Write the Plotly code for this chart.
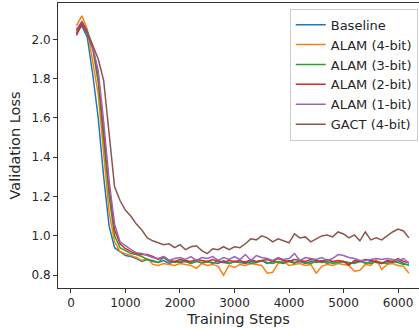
import plotly.graph_objects as go

steps = [100 * (i + 1) for i in range(62)]

baseline = [2.03, 2.07, 2.01, 1.82, 1.60, 1.30, 1.05, 0.94, 0.92, 0.90,
            0.895, 0.885, 0.87, 0.88, 0.87, 0.865, 0.875, 0.86, 0.87, 0.865,
            0.87, 0.86, 0.875, 0.86, 0.87, 0.865, 0.86, 0.875, 0.86, 0.87,
            0.865, 0.86, 0.87, 0.865, 0.875, 0.86, 0.87, 0.865, 0.86, 0.875,
            0.865, 0.87, 0.86, 0.87, 0.865, 0.875, 0.86, 0.87, 0.865, 0.87,
            0.86, 0.865, 0.875, 0.86, 0.87, 0.865, 0.86, 0.87, 0.865, 0.875,
            0.86, 0.85]

alam4 = [2.07, 2.12, 2.05, 1.88, 1.72, 1.42, 1.12, 0.97, 0.92, 0.91,
         0.90, 0.89, 0.875, 0.885, 0.855, 0.85, 0.86, 0.855, 0.85, 0.86,
         0.855, 0.85, 0.835, 0.86, 0.85, 0.855, 0.845, 0.80, 0.85, 0.84,
         0.855, 0.85, 0.86, 0.855, 0.85, 0.81, 0.815, 0.86, 0.87, 0.85,
         0.855, 0.86, 0.85, 0.855, 0.81, 0.845, 0.855, 0.85, 0.86, 0.855,
         0.85, 0.82, 0.825, 0.855, 0.85, 0.88, 0.83, 0.855, 0.86, 0.85,
         0.845, 0.81]

alam3 = [2.05, 2.08, 2.03, 1.95, 1.78, 1.50, 1.20, 1.00, 0.94, 0.925,
         0.91, 0.905, 0.895, 0.88, 0.875, 0.865, 0.89, 0.87, 0.865, 0.87,
         0.875, 0.86, 0.87, 0.865, 0.87, 0.86, 0.875, 0.865, 0.86, 0.87,
         0.865, 0.87, 0.86, 0.865, 0.875, 0.865, 0.86, 0.87, 0.865, 0.87,
         0.86, 0.875, 0.865, 0.86, 0.87, 0.865, 0.87, 0.86, 0.865, 0.87,
         0.865, 0.86, 0.87, 0.865, 0.86, 0.87, 0.865, 0.86, 0.87, 0.865,
         0.855, 0.855]

alam2 = [2.02, 2.08, 2.03, 1.96, 1.82, 1.55, 1.25, 1.03, 0.96, 0.935,
         0.92, 0.91, 0.905, 0.905, 0.895, 0.88, 0.895, 0.875, 0.87, 0.88,
         0.875, 0.87, 0.88, 0.875, 0.87, 0.88, 0.87, 0.865, 0.875, 0.87,
         0.875, 0.865, 0.88, 0.87, 0.875, 0.88, 0.87, 0.885, 0.875, 0.87,
         0.88, 0.875, 0.87, 0.88, 0.875, 0.87, 0.88, 0.87, 0.875, 0.87,
         0.85, 0.875, 0.87, 0.88, 0.875, 0.87, 0.86, 0.875, 0.87, 0.885,
         0.87, 0.865]

alam1 = [2.05, 2.09, 2.04, 1.96, 1.84, 1.58, 1.28, 1.06, 0.97, 0.95,
         0.93, 0.915, 0.91, 0.90, 0.89, 0.885, 0.895, 0.875, 0.885, 0.89,
         0.88, 0.895, 0.875, 0.89, 0.885, 0.895, 0.875, 0.89, 0.88, 0.895,
         0.88, 0.905, 0.875, 0.90, 0.89, 0.885, 0.875, 0.89, 0.88, 0.885,
         0.91, 0.875, 0.89, 0.885, 0.88, 0.89, 0.875, 0.885, 0.905, 0.90,
         0.89, 0.885, 0.875, 0.875, 0.88, 0.885, 0.88, 0.885, 0.88, 0.875,
         0.885, 0.86]

gact4 = [2.04, 2.09, 2.04, 1.97, 1.90, 1.79, 1.50, 1.25, 1.18, 1.13,
         1.10, 1.06, 1.03, 0.99, 0.975, 0.965, 0.955, 0.96, 0.94, 0.955,
         0.93, 0.945, 0.95, 0.925, 0.91, 0.935, 0.93, 0.945, 0.93, 0.945,
         0.94, 0.96, 0.985, 0.98, 1.00, 0.99, 0.97, 0.985, 0.975, 0.965,
         1.01, 0.99, 0.995, 0.97, 0.985, 1.00, 1.005, 0.995, 1.02, 1.01,
         0.99, 1.005, 0.975, 1.02, 0.98, 0.99, 0.98, 1.00, 1.02, 1.035,
         1.025, 0.99]

names = ["Baseline", "ALAM (4-bit)", "ALAM (3-bit)", "ALAM (2-bit)", "ALAM (1-bit)", "GACT (4-bit)"]
series = [baseline, alam4, alam3, alam2, alam1, gact4]
colors = ["#1f77b4", "#ff7f0e", "#2ca02c", "#d62728", "#9467bd", "#8c564b"]

font = "DejaVu Sans, sans-serif"
fig = go.Figure()
for n, s, c in zip(names, series, colors):
    fig.add_trace(go.Scatter(x=steps, y=s, mode="lines", name=n,
                             line=dict(color=c, width=1.5)))

fig.update_layout(
    width=419, height=329,
    margin=dict(l=58, r=0, t=3, b=41),
    paper_bgcolor="white", plot_bgcolor="white",
    font=dict(family=font, size=12, color="#262626"),
    showlegend=True,
    legend=dict(x=0.9965, xanchor="right", y=0.98, yanchor="top",
                bgcolor="white", bordercolor="#cccccc", borderwidth=1,
                font=dict(family=font, size=13, color="#262626"),
                itemwidth=30, tracegroupgap=0),
)
fig.update_xaxes(range=[-238, 6385], tickvals=[0, 1000, 2000, 3000, 4000, 5000, 6000],
                 showgrid=False, zeroline=False, showline=True, linecolor="#333333",
                 linewidth=1, mirror=True, ticks="outside", ticklen=4, tickcolor="#333333",
                 tickfont=dict(size=12), title=dict(text="Training Steps", font=dict(size=14.5), standoff=4))
fig.update_yaxes(range=[0.735, 2.185], tickvals=[0.8, 1.0, 1.2, 1.4, 1.6, 1.8, 2.0], tickformat=".1f",
                 showgrid=False, zeroline=False, showline=True, linecolor="#333333",
                 linewidth=1, ticks="outside", ticklen=4, tickcolor="#333333",
                 tickfont=dict(size=12), title=dict(text="Validation Loss", font=dict(size=14.5), standoff=7))

fig.write_html("out.html", config={"displayModeBar": False},
               post_script="document.body.style.margin='0';")
